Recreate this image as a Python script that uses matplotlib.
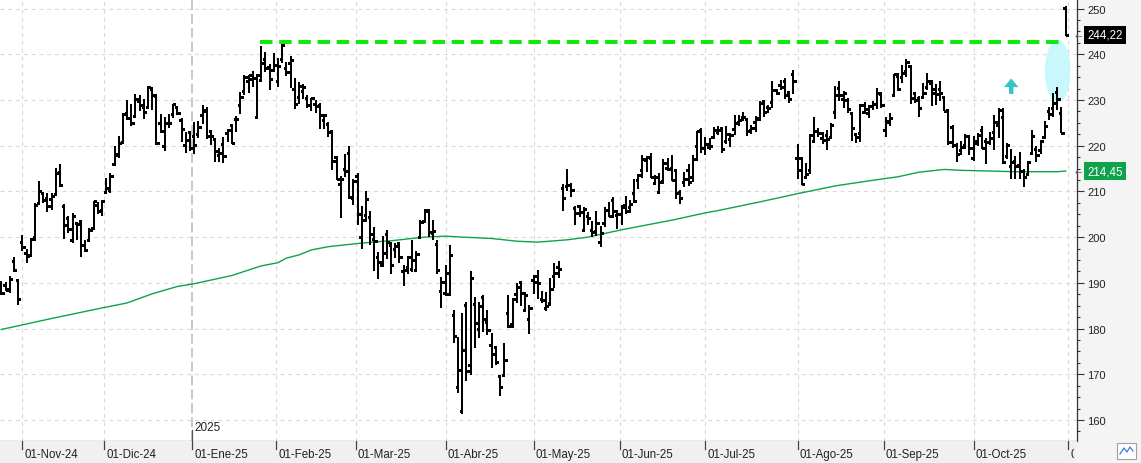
import numpy as np
import pandas as pd
import matplotlib
matplotlib.use('Agg')
import matplotlib.pyplot as plt
from matplotlib.patches import Ellipse, Polygon, Rectangle
from matplotlib.transforms import Bbox, TransformedBbox

plt.rcParams['font.family'] = ['Liberation Sans', 'DejaVu Sans']

W, H = 1141, 464

# sesiones (NYSE) del 25-oct-2024 al 31-oct-2025
holidays = ['2024-11-28', '2024-12-25', '2025-01-01', '2025-01-09', '2025-01-20',
            '2025-02-17', '2025-04-18', '2025-05-26', '2025-06-19', '2025-07-04',
            '2025-09-01']
dates = pd.bdate_range('2024-10-25', '2025-10-31')
dates = dates[~dates.isin(pd.to_datetime(holidays))]

opens = [187.85, 189.57, 188.58, 194.70, 190.51,
         199.00, 196.45, 196.04, 200.01, 207.44, 209.72, 208.50, 208.37, 209.40, 214.16,
         206.76, 204.15, 199.33, 202.98, 203.49, 198.25, 199.28, 201.90, 206.98, 205.83,
         209.96, 210.31, 215.96, 218.03, 220.75, 227.21, 226.09, 226.41, 229.83, 228.40,
         228.39, 232.39, 230.77, 224.91, 219.84, 225.01, 226.94, 228.50, 225.60, 220.06, 222.97,
         222.03, 222.50, 226.78, 227.90, 223.19, 221.46, 218.06, 220.44, 222.83, 224.42,
         225.84, 228.90, 232.02, 234.10, 234.50, 226.21, 234.29, 239.02, 237.14, 236.50,
         234.06, 239.01, 237.02, 238.01, 232.50, 230.55, 231.92, 230.46, 228.85, 229.20,
         228.82, 225.52, 224.78, 223.28, 217.45, 211.63, 214.94, 218.35, 208.65,
         213.35, 200.11, 204.80, 204.40, 199.49, 195.60, 193.90, 200.72, 198.17, 197.41,
         198.77, 192.52, 193.38, 193.07, 192.90, 200.00, 203.60, 205.84, 200.89, 198.42, 188.19,
         187.86, 187.66, 183.00, 167.15, 162.00, 185.23, 172.12, 185.44, 179.93, 186.84,
         181.41, 176.29, 176.00, 169.60, 169.85, 183.45, 180.92, 187.62, 190.11, 183.99, 182.17,
         190.63, 191.44, 186.51, 184.57, 185.56, 191.43, 193.38, 210.71, 211.08, 211.45,
         206.45, 206.85, 201.65, 204.63, 201.61, 201.38, 198.90, 203.09, 205.92, 208.03, 204.84,
         204.98, 207.11, 206.55, 209.55, 212.40, 214.75, 216.78, 217.41, 211.78, 209.96,
         212.31, 215.19, 215.09, 214.68, 209.79, 212.14, 214.62, 213.12, 219.92, 223.52,
         219.50, 219.73, 221.82, 223.00, 223.92, 221.07, 221.55, 223.58, 225.07, 226.20,
         225.88, 223.32, 225.14, 225.84, 229.68, 228.47, 229.57, 232.22, 233.35, 234.15,
         231.64, 235.77,
         217.21, 217.40, 213.05, 214.70, 221.00, 223.14, 221.78, 222.23, 222.00, 227.40,
         232.58, 230.23, 230.09, 227.12, 222.65, 222.79, 227.35, 227.11, 228.57, 229.01, 231.32,
         223.52, 225.21, 231.19, 235.19, 234.94, 236.36, 237.52, 231.49, 230.35, 230.62,
         232.94, 233.77, 232.50, 232.37, 230.56, 227.83, 224.15, 220.06, 219.08, 220.08, 222.03,
         217.36, 221.01, 223.44, 221.00, 220.88, 222.92, 224.50, 226.21, 217.70, 215.56,
         216.62, 215.67, 214.56, 213.88, 218.43, 219.30, 219.00, 221.97, 227.66, 228.22,
         231.67, 227.06, 250.10]
highs = [190.45, 190.21, 191.46, 195.61, 190.60,
         200.50, 197.33, 199.82, 207.55, 212.25, 209.96, 209.65, 209.54, 215.09, 215.90,
         207.34, 204.67, 205.30, 203.13, 203.49, 199.26, 201.95, 208.00, 207.64, 208.20,
         212.99, 214.02, 220.00, 222.15, 227.15, 230.08, 229.06, 231.20, 231.09, 230.20,
         233.00, 232.73, 231.40, 226.98, 226.21, 226.88, 229.14, 228.50, 226.03, 223.00, 223.23,
         225.15, 225.36, 228.84, 228.38, 223.52, 221.71, 219.40, 221.82, 223.57, 224.65,
         226.51, 231.78, 235.44, 235.52, 236.40, 235.61, 241.77, 240.39, 237.95, 240.29,
         239.25, 242.52, 238.32, 239.66, 234.81, 233.92, 233.44, 231.18, 230.42, 229.89,
         229.30, 226.83, 225.13, 223.31, 217.72, 213.34, 218.16, 219.97, 212.62,
         214.01, 206.80, 209.98, 205.77, 202.27, 196.73, 200.18, 201.52, 198.88, 198.65,
         199.00, 194.00, 195.97, 199.32, 196.99, 203.64, 206.21, 206.01, 203.79, 199.26, 191.33,
         193.93, 198.34, 184.13, 178.14, 183.41, 185.90, 192.65, 186.87, 185.86, 187.44,
         184.00, 179.10, 176.21, 169.60, 176.78, 187.38, 186.74, 189.94, 190.22, 188.02, 185.05,
         191.81, 192.88, 188.18, 187.93, 190.99, 194.33, 194.69, 211.66, 214.84, 211.93,
         206.88, 206.85, 206.62, 205.59, 203.46, 205.76, 202.37, 206.69, 207.66, 208.81, 205.99,
         207.00, 208.95, 208.18, 212.81, 213.87, 217.85, 217.69, 218.40, 213.58, 214.05,
         217.06, 217.41, 217.96, 214.89, 210.39, 214.34, 216.03, 218.04, 223.30, 223.82,
         221.88, 221.60, 224.01, 224.29, 224.00, 224.29, 222.79, 226.68, 226.66, 227.27,
         226.10, 224.50, 226.40, 229.69, 230.00, 228.79, 234.10, 232.48, 234.29, 234.72,
         231.80, 236.53,
         220.44, 217.44, 216.30, 222.65, 226.22, 223.80, 223.05, 223.50, 224.92, 233.11,
         234.08, 231.91, 230.53, 227.27, 222.78, 229.14, 229.60, 229.00, 229.87, 232.71, 231.81,
         226.17, 227.17, 235.77, 236.00, 237.60, 238.85, 237.68, 231.53, 230.79, 233.73,
         235.90, 234.30, 233.48, 234.16, 230.56, 227.86, 224.56, 220.67, 221.05, 222.60, 222.24,
         222.15, 222.81, 224.20, 221.73, 222.89, 226.73, 228.21, 228.25, 220.68, 219.32,
         217.71, 218.59, 214.80, 216.69, 223.32, 220.01, 221.30, 225.40, 228.40, 231.49,
         232.82, 228.44, 250.50]
lows = [187.53, 188.21, 187.82, 192.42, 185.23,
        197.02, 194.31, 195.99, 199.14, 207.19, 207.44, 205.59, 206.01, 209.14, 210.88,
        199.61, 200.95, 198.78, 199.45, 195.75, 196.75, 199.00, 201.79, 205.05, 204.59,
        209.51, 209.65, 215.75, 217.30, 220.60, 225.67, 224.20, 226.26, 227.63, 225.86,
        228.01, 227.85, 220.11, 222.76, 218.73, 223.90, 226.13, 226.67, 220.90, 218.43, 218.94,
        218.19, 221.62, 224.84, 221.46, 220.20, 216.50, 216.47, 216.20, 220.75, 220.31,
        223.08, 226.94, 231.19, 231.51, 232.93, 225.86, 233.98, 236.15, 232.22, 236.41,
        232.90, 238.03, 235.20, 232.60, 228.06, 229.20, 230.13, 228.16, 227.52, 227.23,
        223.72, 223.71, 221.81, 214.74, 212.42, 204.16, 213.09, 208.37, 206.99,
        202.55, 197.43, 203.26, 198.30, 192.53, 190.85, 193.40, 195.29, 191.82, 195.32,
        194.32, 189.38, 191.96, 192.30, 192.52, 199.95, 203.22, 199.93, 199.28, 191.88, 184.40,
        187.20, 187.66, 176.92, 166.00, 161.38, 168.57, 169.93, 175.85, 178.00, 179.23,
        178.69, 171.41, 172.00, 165.29, 169.35, 180.19, 180.18, 185.49, 184.89, 183.68, 178.85,
        187.50, 186.40, 185.53, 183.85, 185.01, 188.82, 191.16, 205.75, 210.10, 208.85,
        202.67, 204.37, 201.26, 202.65, 200.06, 200.16, 197.85, 202.19, 204.41, 204.23, 201.70,
        202.68, 205.03, 205.18, 207.56, 210.50, 212.88, 214.15, 212.89, 211.33, 209.62,
        211.60, 214.56, 212.34, 208.27, 207.31, 211.05, 211.11, 212.01, 216.74, 218.48,
        217.93, 219.06, 221.36, 222.37, 218.43, 220.47, 219.70, 222.37, 224.24, 225.46,
        222.18, 222.51, 222.98, 225.60, 226.35, 227.09, 228.33, 231.18, 232.07, 230.31,
        229.29, 231.40,
        212.80, 211.42, 212.87, 213.74, 220.82, 221.88, 220.40, 219.05, 222.00, 225.80,
        229.81, 228.33, 227.12, 220.92, 220.50, 220.82, 227.31, 226.02, 227.81, 228.02, 228.16,
        221.83, 224.36, 230.78, 231.93, 233.75, 235.02, 229.10, 229.34, 226.29, 230.32,
        232.23, 228.71, 228.79, 229.70, 227.51, 220.07, 219.45, 216.47, 218.02, 219.30, 217.89,
        216.61, 219.95, 219.34, 216.03, 220.17, 219.05, 221.75, 216.00, 217.04, 212.60,
        212.66, 212.81, 211.03, 213.59, 217.99, 216.52, 218.18, 221.90, 225.54, 226.21,
        227.76, 222.75, 243.98]
closes = [187.83, 188.39, 190.83, 192.73, 186.40,
          197.93, 195.78, 199.50, 207.09, 210.05, 208.18, 206.84, 208.91, 214.10, 211.48,
          202.61, 201.70, 204.61, 202.88, 198.38, 197.12, 201.45, 207.86, 205.74, 207.89,
          210.71, 213.44, 218.16, 220.55, 227.03, 226.09, 225.04, 230.26, 228.97, 227.46,
          232.93, 231.15, 220.52, 223.29, 224.92, 225.06, 229.05, 227.05, 223.75, 221.30, 219.39,
          220.22, 224.19, 227.61, 222.11, 222.13, 218.94, 218.46, 217.76, 223.35, 220.66,
          225.94, 230.71, 235.01, 235.42, 234.85, 235.42, 238.15, 237.07, 234.64, 237.68,
          237.42, 242.06, 236.17, 238.83, 229.15, 233.14, 232.76, 228.93, 230.37, 228.68,
          226.65, 226.63, 222.88, 216.58, 212.71, 212.80, 214.35, 208.74, 212.28,
          205.02, 203.80, 208.36, 200.70, 199.25, 194.54, 196.59, 198.89, 193.89, 197.95,
          195.74, 192.82, 195.54, 194.95, 196.21, 203.26, 205.71, 201.13, 201.36, 192.72, 190.26,
          192.17, 196.01, 178.41, 171.00, 175.26, 170.66, 191.10, 181.22, 184.87, 182.12,
          179.59, 174.33, 172.61, 167.32, 173.18, 180.60, 186.54, 188.99, 187.70, 187.39, 184.42,
          190.20, 189.98, 186.35, 185.01, 188.71, 192.08, 193.06, 208.64, 211.37, 210.25,
          205.17, 205.59, 206.16, 204.07, 201.12, 203.10, 200.99, 206.02, 204.72, 205.70, 205.01,
          206.65, 205.71, 207.23, 207.91, 213.57, 216.98, 217.61, 213.20, 213.24, 212.10,
          216.10, 214.82, 212.52, 209.69, 208.47, 212.77, 211.99, 217.12, 223.30, 219.39,
          220.46, 219.92, 223.41, 223.47, 219.36, 222.54, 222.26, 225.02, 225.69, 226.35,
          223.19, 223.88, 226.13, 229.30, 227.47, 228.29, 232.23, 231.44, 232.79, 231.01,
          230.19, 234.11,
          214.75, 211.65, 213.75, 222.31, 223.13, 222.69, 221.30, 221.47, 224.56, 230.98,
          231.03, 231.49, 228.01, 223.81, 221.95, 228.84, 227.94, 228.71, 229.12, 231.60, 229.00,
          225.34, 225.99, 235.68, 232.33, 235.84, 238.24, 230.33, 229.95, 228.15, 231.43,
          234.05, 231.62, 231.23, 231.48, 227.63, 220.71, 220.21, 218.15, 219.78, 222.17, 219.57,
          220.63, 222.41, 219.51, 220.90, 221.78, 225.22, 227.74, 216.37, 220.07, 216.39,
          215.57, 214.47, 213.04, 216.48, 222.03, 217.95, 221.09, 224.21, 226.97, 229.25,
          230.30, 222.86, 244.22]

sma_dates = ['2024-10-25', '2024-11-12', '2024-11-29', '2024-12-09', '2024-12-17', '2024-12-26',
             '2025-01-02', '2025-01-16', '2025-01-28', '2025-02-03', '2025-02-05', '2025-02-10',
             '2025-02-13', '2025-02-20', '2025-03-03', '2025-03-10', '2025-03-13', '2025-03-25',
             '2025-04-01', '2025-04-07', '2025-04-16', '2025-04-22', '2025-04-25', '2025-05-02',
             '2025-05-13', '2025-05-20', '2025-06-02', '2025-06-18', '2025-07-01', '2025-07-07',
             '2025-07-21', '2025-07-25', '2025-08-01', '2025-08-14', '2025-08-26', '2025-09-05',
             '2025-09-12', '2025-09-22', '2025-09-26', '2025-10-03', '2025-10-15', '2025-10-29',
             '2025-10-31']
sma_values = [179.8, 182.2, 184.5, 185.6, 187.6, 189.2,
              189.8, 191.6, 193.7, 194.4, 195.4, 196.1,
              197.2, 197.9, 198.6, 199.0, 199.2, 200.0,
              200.2, 200.0, 199.7, 199.4, 199.1, 198.9,
              199.4, 200.0, 201.6, 203.7, 205.3, 205.8,
              207.7, 208.5, 209.5, 211.2, 212.3, 213.2,
              214.2, 214.8, 214.6, 214.5, 214.3, 214.3,
              214.45]

month_labels = ['01-Nov-24', '01-Dic-24', '01-Ene-25', '01-Feb-25', '01-Mar-25', '01-Abr-25',
                '01-May-25', '01-Jun-25', '01-Jul-25', '01-Ago-25', '01-Sep-25', '01-Oct-25',
                '01-Nov-25']

resistance = 242.6      # maximo de febrero
last_close = 244.22
last_sma = 214.45

x = np.arange(len(dates))
o, h, l, c = map(np.array, (opens, highs, lows, closes))

# posicion de cada inicio de mes sobre el eje de sesiones
month_pos = []
for m in pd.date_range('2024-11-01', '2025-11-01', freq='MS'):
    p = dates.searchsorted(m)
    if p >= len(dates) or dates[p] != m:
        p = p - 0.4
    month_pos.append(p)

fig = plt.figure(figsize=(W / 100, H / 100), dpi=100, facecolor='#f4f4f4')
ax = fig.add_axes([0, 22 / H, 1077 / W, 442 / H])
ax.set_facecolor('white')
ax.set_xlim(-0.33, 256.7)
ax.set_ylim(155.4, 252.08)

# rejilla
for yv in range(160, 251, 10):
    ax.axhline(yv, color='#d9d9d9', lw=0.8, ls=(0, (3.5, 3.5)), zorder=0)
for i, p in enumerate(month_pos):
    if month_labels[i].endswith('Ene-25'):
        ax.axvline(p, color='#c4c4c4', lw=1.3, ls=(0, (5.5, 2.2)), zorder=0)
    else:
        ax.axvline(p, color='#d9d9d9', lw=0.8, ls=(0, (3.5, 3.5)), zorder=0)

# separador de año
p25 = month_pos[2]
ax.plot([p25, p25], [157.8, 155.4], color='#555555', lw=0.9, zorder=1)
ax.text(p25 + 0.5, 158.5, '2025', fontsize=8.5, color='#222222', ha='left', va='center')

# media 200
sma_x = [dates.get_loc(pd.Timestamp(d)) for d in sma_dates]
ax.plot(sma_x, sma_values, color='#0ea34a', lw=1.0, zorder=2)

# zona de ruptura
ax.add_patch(Ellipse((252.1, 236.3), 6.1, 13.8, facecolor='#c9f8fc', edgecolor='none', zorder=1.5))
ax.add_patch(Polygon([(241, 234.7), (242.75, 232.8), (241.52, 232.8), (241.52, 231.3),
                      (240.48, 231.3), (240.48, 232.8), (239.25, 232.8)],
                     closed=True, facecolor='#35c5c9', edgecolor='none', zorder=3))

ax.plot([61.7, 252.5], [resistance, resistance], color='#10e810', lw=2.9,
        ls=(0, (3.1, 1.66)), solid_capstyle='butt', dash_capstyle='butt', zorder=4)

# barras OHLC
ax.vlines(x, l, h, color='black', lw=1.1, antialiased=False, zorder=3)
ax.hlines(o, x - 0.55, x, color='black', lw=0.75, antialiased=False, zorder=3)
ax.hlines(c, x, x + 0.55, color='black', lw=0.75, antialiased=False, zorder=3)

# ejes
for s in ['top', 'left']:
    ax.spines[s].set_visible(False)
ax.spines['right'].set_color('#333333')
ax.spines['bottom'].set_color('#555555')
ax.spines['right'].set_linewidth(0.9)
ax.spines['bottom'].set_linewidth(0.9)
ax.set_xticks([])
ax.yaxis.tick_right()
ax.set_yticks(range(160, 251, 10))
ax.set_yticks(np.arange(157.5, 252, 2.5), minor=True)
ax.tick_params(axis='y', which='major', length=5, width=0.8, color='#333333',
               labelsize=8, labelcolor='#222222', pad=2.5)
ax.tick_params(axis='y', which='minor', length=2.5, width=0.8, color='#333333')

# etiquetas de precio
def price_box(val, text, color):
    yc = ax.transData.transform((0, val))[1]
    fig.add_artist(Rectangle((1083.5 / W, (yc - 9.2) / H), 42.5 / W, 18.4 / H,
                             transform=fig.transFigure, facecolor=color, edgecolor='none'))
    fig.text(1105 / W, yc / H, text, color='white', fontsize=8.3, ha='center', va='center')
    fig.text(1082 / W, yc / H, '\u2190', color='#666666', fontsize=6.5, ha='right', va='center',
             family='DejaVu Sans')

price_box(last_close, '244,22', 'black')
price_box(last_sma, '214,45', '#0ea34a')

# banda de fechas
bax = fig.add_axes([0, 0, 1077 / W, 22 / H])
bax.set_xlim(ax.get_xlim())
bax.set_ylim(0, 1)
bax.set_facecolor('#f0f0f0')
for s in bax.spines.values():
    s.set_visible(False)
bax.set_xticks([])
bax.set_yticks([])
clip_box = TransformedBbox(Bbox([[0, 0], [1074 / 1077, 1]]), bax.transAxes)
for p, lab in zip(month_pos, month_labels):
    bax.plot([p, p], [0.64, 1.0], color='#444444', lw=0.9)
    t = bax.text(p + 0.45, 0.40, lab, fontsize=8.3, color='#222222', ha='left', va='center')
    t.set_clip_on(True)
    t.set_clip_box(clip_box)

# botón pequeño abajo a la derecha
fig.add_artist(Rectangle((1117 / W, 4 / H), 19 / W, 16 / H, transform=fig.transFigure,
                         facecolor='white', edgecolor='#a0a0a0', lw=0.8))
fig.add_artist(plt.Line2D(np.array([1120, 1124, 1127, 1130, 1133]) / W,
                          np.array([9, 15, 11, 16, 12]) / H, transform=fig.transFigure,
                          color='#3a7bd5', lw=0.9))

fig.savefig('out.png', dpi=100, facecolor=fig.get_facecolor())
